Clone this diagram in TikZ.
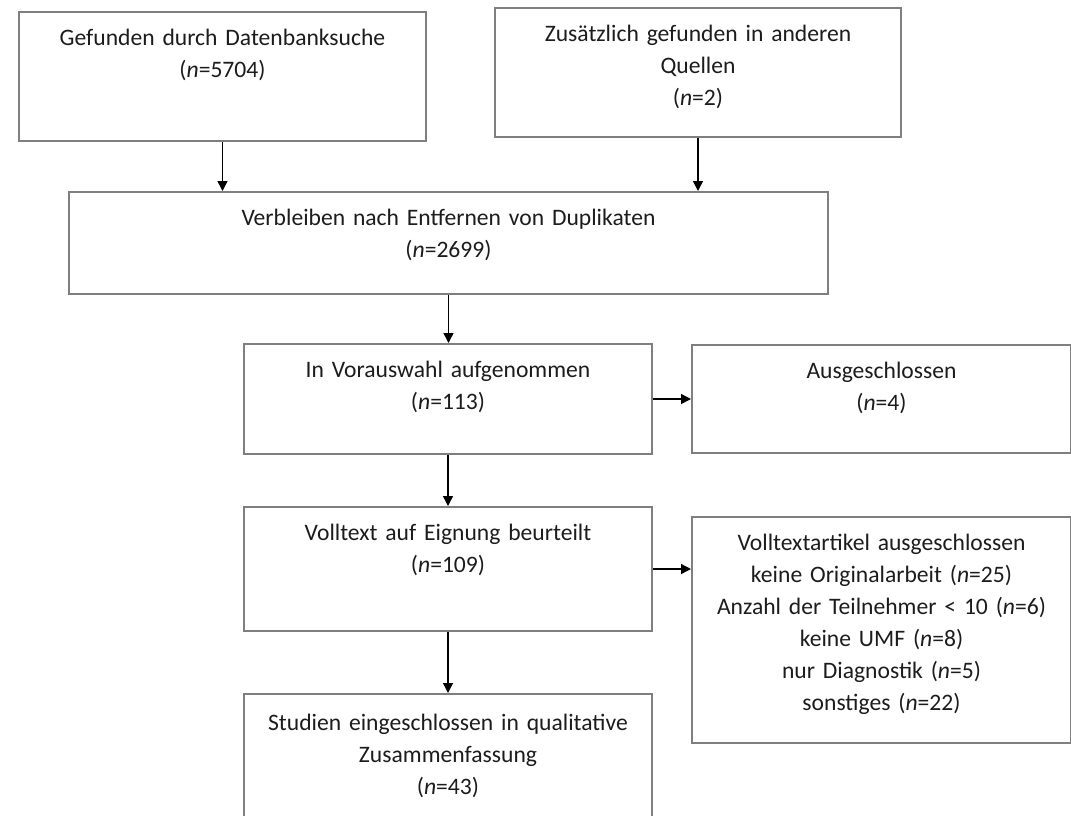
\documentclass[tikz,border=0pt]{standalone}
\usepackage{fontspec}
\setmainfont{Carlito}
\usepackage{xcolor}
\usetikzlibrary{arrows.meta, positioning}
\definecolor{boxgray}{HTML}{7F7F7F}
\definecolor{txtgray}{HTML}{1C1C1C}

\begin{document}
\begin{tikzpicture}[
        x=0.5pt, y=-0.5pt,
        font=\fontsize{11.8}{16}\selectfont,
        box/.style={rectangle, draw=boxgray, line width=1pt, anchor=north west, inner sep=0pt, align=center, text height=16.5pt, text=txtgray},
        arrow/.style={-{Triangle[length=5pt, width=5pt]}, line width=0.7pt}
    ]
        \useasboundingbox (0,0) rectangle (1071,815);
        \clip (0,0) rectangle (1071,815);

        % Nodes
        \node[box, text width=203.5pt, text depth=48pt] (search) at (18,11) {Gefunden durch Datenbanksuche\\(\textit{n}=5704)};
        \node[box, text width=203pt, text depth=48pt] (other) at (494,7) {Zusätzlich gefunden in anderen\\Quellen\\(\textit{n}=2)};
        \node[box, text width=379.5pt, text depth=34.5pt] (dedup) at (68,191) {Verbleiben nach Entfernen von Duplikaten\\(\textit{n}=2699)};
        \node[box, text width=204pt, text depth=38.5pt] (screened) at (243,343) {In Vorauswahl aufgenommen\\(\textit{n}=113)};
        \node[box, text width=189.5pt, text depth=37.5pt] (excluded) at (691,344) {Ausgeschlossen\\(\textit{n}=4)};
        \node[box, text width=204pt, text depth=45.5pt] (fulltext) at (243,506) {Volltext auf Eignung beurteilt\\(\textit{n}=109)};
        \node[box, text width=189.5pt, text depth=96.5pt] (ftexcluded) at (691,516) {Volltextartikel ausgeschlossen\\keine Originalarbeit (\textit{n}=25)\\Anzahl der Teilnehmer < 10 (\textit{n}=6)\\keine UMF (\textit{n}=8)\\nur Diagnostik (\textit{n}=5)\\sonstiges (\textit{n}=22)};
        \node[box, text width=204pt, text height=18pt, text depth=50.5pt] (included) at (243,693) {Studien eingeschlossen in qualitative\\Zusammenfassung\\(\textit{n}=43)};

        % Arrows
        \draw[arrow] (search.south) -- (search.south |- dedup.north);
        \draw[arrow] (other.south) -- (other.south |- dedup.north);
        \draw[arrow] (dedup.south) -- (dedup.south |- screened.north);
        \draw[arrow] (screened.east) -- (excluded.west);
        \draw[arrow] (screened.south) -- (fulltext.north);
        \draw[arrow] (fulltext.east) -- (fulltext.east -| ftexcluded.west);
        \draw[arrow] (fulltext.south) -- (included.north);
    \end{tikzpicture}
\end{document}
